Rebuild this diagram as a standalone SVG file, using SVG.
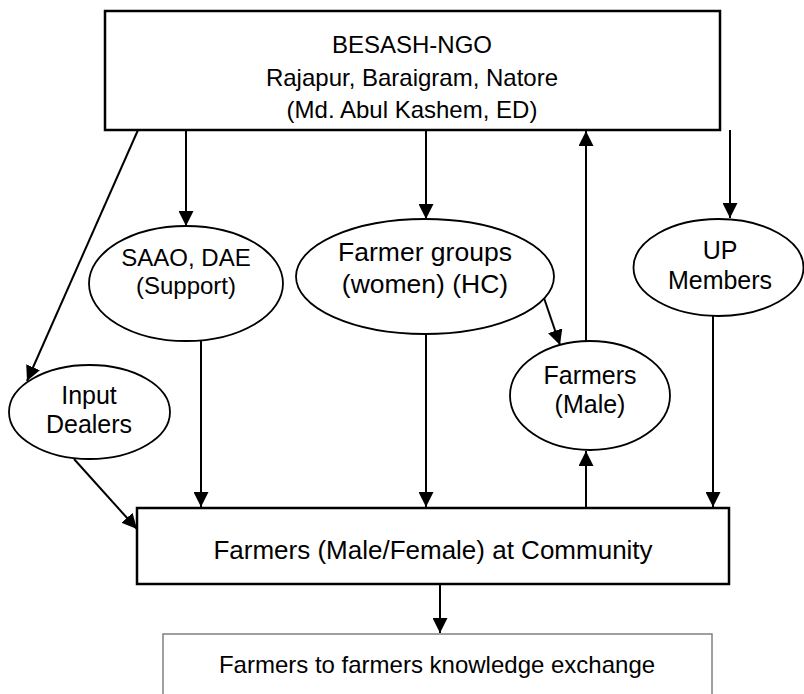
<svg xmlns="http://www.w3.org/2000/svg" width="804" height="694" viewBox="0 0 804 694">
<style>
.box{fill:#fff;stroke:#000;stroke-width:2.5}
.box2{fill:#fff;stroke:#808080;stroke-width:1.5}
.ell{fill:#fff;stroke:#000;stroke-width:1.8}
.t{font-family:"Liberation Sans",Arial,sans-serif;fill:#000;text-anchor:middle}
.big{font-size:24px}
.mid{font-size:25px}
.sm{font-size:24px}
.c{stroke:#000;stroke-width:2;fill:none;marker-end:url(#ah)}
</style>
<defs>
<marker id="ah" viewBox="0 0 15 15" refX="15" refY="7.5" markerWidth="15" markerHeight="15" markerUnits="userSpaceOnUse" orient="auto">
<path d="M0,0 L15,7.5 L0,15 z" fill="#000"/>
</marker>
</defs>
<rect width="804" height="694" fill="#fff"/>
<g id="connectors">
<line class="c" x1="138" y1="130" x2="27" y2="381"/>
<line class="c" x1="186" y1="130" x2="186" y2="226"/>
<line class="c" x1="426" y1="130" x2="426" y2="219"/>
<line class="c" x1="586" y1="341" x2="586" y2="131"/>
<line class="c" x1="730" y1="130" x2="730" y2="218"/>
<line class="c" x1="544" y1="298" x2="560" y2="345"/>
<line class="c" x1="201" y1="341" x2="201" y2="507"/>
<line class="c" x1="426" y1="334" x2="426" y2="507"/>
<line class="c" x1="586" y1="508" x2="586" y2="451"/>
<line class="c" x1="713" y1="316" x2="713" y2="507"/>
<line class="c" x1="74" y1="459" x2="137" y2="529"/>
<line class="c" x1="440" y1="584" x2="440" y2="633"/>
</g>
<g id="besash">
<rect class="box" x="105" y="11" width="615" height="119"/>
<text class="t big" x="412" y="53">BESASH-NGO</text>
<text class="t big" x="412" y="86">Rajapur, Baraigram, Natore</text>
<text class="t big" x="412" y="118">(Md. Abul Kashem, ED)</text>
</g>
<g id="saao">
<ellipse class="ell" cx="186" cy="283.5" rx="97" ry="57.5"/>
<text class="t sm" x="186" y="266">SAAO, DAE</text>
<text class="t sm" x="186" y="294">(Support)</text>
</g>
<g id="farmergroups">
<ellipse class="ell" cx="425" cy="276.5" rx="129" ry="57.5"/>
<text class="t" style="font-size:26.5px" x="425" y="261">Farmer groups</text>
<text class="t" style="font-size:26.5px" x="425" y="293">(women) (HC)</text>
</g>
<g id="upmembers">
<ellipse class="ell" cx="718.5" cy="267.5" rx="85" ry="48.5"/>
<text class="t mid" x="720" y="259">UP</text>
<text class="t mid" x="720" y="289">Members</text>
</g>
<g id="farmersmale">
<ellipse class="ell" cx="590" cy="395.5" rx="80" ry="54.5"/>
<text class="t mid" x="590" y="384">Farmers</text>
<text class="t mid" x="590" y="413">(Male)</text>
</g>
<g id="inputdealers">
<ellipse class="ell" cx="89.5" cy="412" rx="80.5" ry="47"/>
<text class="t mid" x="89" y="404">Input</text>
<text class="t mid" x="89" y="433">Dealers</text>
</g>
<g id="community">
<rect class="box" x="137" y="508" width="592" height="76"/>
<text class="t" style="font-size:26px" x="433" y="559">Farmers (Male/Female) at Community</text>
</g>
<g id="exchange">
<rect class="box2" x="163" y="634" width="549" height="70"/>
<text class="t" style="font-size:24px" x="437" y="673">Farmers to farmers knowledge exchange</text>
</g>
</svg>
